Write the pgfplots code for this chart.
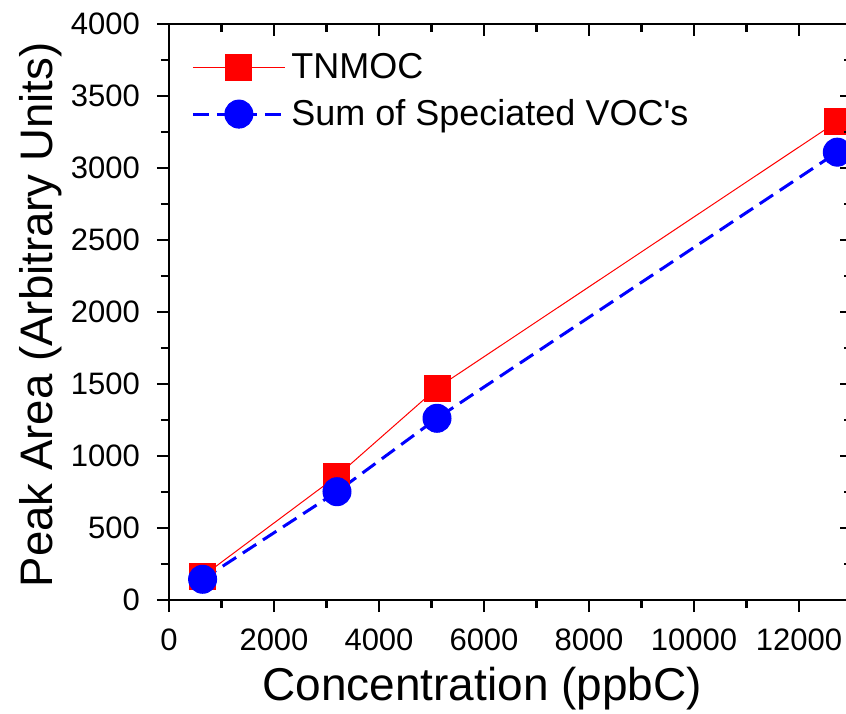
\documentclass[border=0pt]{standalone}
\usepackage{pgfplots}
\pgfplotsset{compat=1.18}
\usepackage{fontspec}
\setmainfont{Liberation Sans}
\begin{document}
\begin{tikzpicture}
\pgfplotsset{
  common/.style={
    at={(0,0)}, anchor=south west,
    scale only axis, width=341.25pt, height=288pt,
    xmin=0, xmax=13000, ymin=0, ymax=4000,
    xtick={0,2000,...,12000}, ytick={0,500,...,4000},
    minor x tick num=1, minor y tick num=1,
    major tick length=6pt, minor tick length=4pt,
    axis line style={line width=1.4pt},
    every tick/.style={black, line width=1.2pt},
    scaled ticks=false,
    /pgf/number format/1000 sep={},
    /pgf/number format/assume math mode=true,
    tick label style={font=\fontsize{15.5pt}{18pt}\selectfont},
  }
}
\begin{axis}[common,
  xtick pos=left, ytick pos=left, tick align=outside,
  xticklabel style={yshift=-5pt},
  yticklabel style={xshift=-5pt},
  xlabel={Concentration (ppbC)},
  ylabel={Peak Area (Arbitrary Units)},
  xlabel style={font=\fontsize{23pt}{27pt}\selectfont, at={(axis description cs:0.459,0)}, anchor=base, yshift=-50pt},
  ylabel style={font=\fontsize{22.8pt}{27pt}\selectfont, at={(axis description cs:-0.17,0.495)}, anchor=base},
  legend style={draw=none, fill=none, inner sep=0pt,
    font=\fontsize{18pt}{21pt}\selectfont,
    at={(axis description cs:0,1)}, anchor=north west, xshift=11pt, yshift=-12pt,
    row sep=4pt, cells={anchor=west},
    nodes={inner sep=2.5pt}},
  legend image code/.code={\draw[mark repeat=2,mark phase=2] plot coordinates {(0pt,0pt) (23pt,0pt) (46pt,0pt)};},
]
\addplot[red, line width=0.5pt, mark=square*, mark size=6.5pt,
  mark options={solid, fill=red, draw=red}] coordinates {
  (640,165) (3200,861) (5105,1472) (12730,3323)};
\addlegendentry{TNMOC}
\addplot[blue, line width=1.5pt, dash pattern=on 8pt off 4pt, mark=*, mark size=7pt,
  mark options={solid, fill=blue, draw=blue, line width=0.5pt}] coordinates {
  (640,144) (3200,752) (5105,1262) (12730,3110)};
\addlegendentry{Sum of Speciated VOC\textquotesingle s}
\end{axis}
\begin{axis}[common,
  xtick pos=right, ytick pos=right, tick align=inside,
  xticklabels={}, yticklabels={}]
\end{axis}
\pgfresetboundingbox
\useasboundingbox (-84.5pt,-56.5pt) rectangle (338.5pt,300pt);
\end{tikzpicture}
\end{document}
